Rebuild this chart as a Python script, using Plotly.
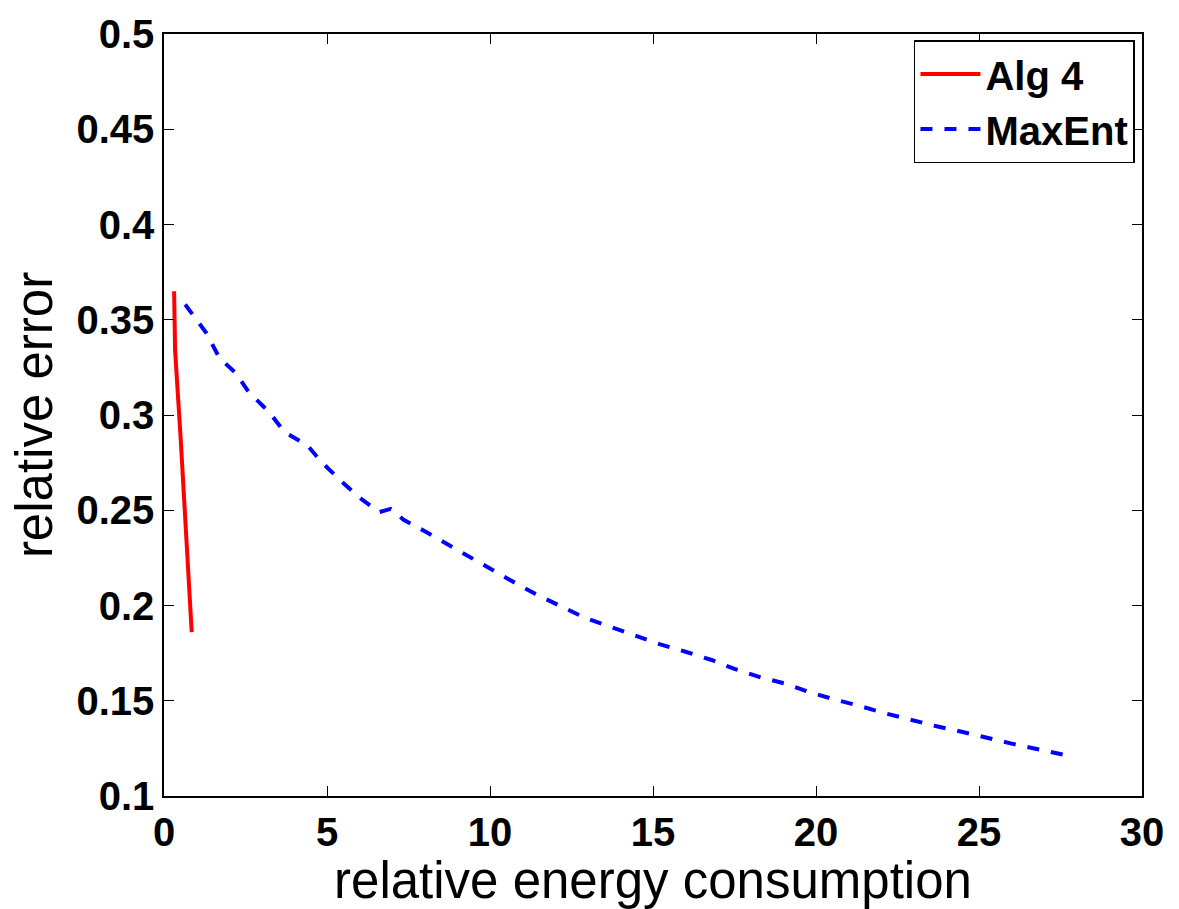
import plotly.graph_objects as go

alg4_x = [0.31, 0.34, 0.51, 0.67, 0.85]
alg4_y = [0.365, 0.334, 0.288, 0.236, 0.186]

maxent_x = [0.65, 1.3, 1.7, 2.2, 2.6, 3.2, 3.7, 4.4, 4.85, 5.45, 6.05, 6.6, 6.95, 7.35,
            8.0, 8.7, 9.4, 10.0, 10.6, 11.4, 12.2, 12.9, 13.7, 14.4, 15.2, 16.0, 16.8,
            17.5, 18.3, 19.1, 19.8, 20.6, 21.3, 22.1, 22.9, 23.7, 24.5, 25.2, 26.0,
            26.85, 27.8]
maxent_y = [0.358, 0.343, 0.330, 0.322, 0.312, 0.302, 0.291, 0.284, 0.275, 0.265, 0.256,
            0.249, 0.2507, 0.245, 0.239, 0.232, 0.2255, 0.219, 0.2135, 0.206, 0.1992,
            0.1936, 0.1888, 0.1844, 0.1797, 0.1757, 0.1714, 0.1667, 0.1623, 0.1588,
            0.1545, 0.1505, 0.1475, 0.1435, 0.140, 0.1366, 0.1336, 0.1306, 0.1275,
            0.1244, 0.1209]

x_ticks = [0, 5, 10, 15, 20, 25, 30]
y_ticks = [0.1, 0.15, 0.2, 0.25, 0.3, 0.35, 0.4, 0.45, 0.5]
y_ticklabels = ["0.1", "0.15", "0.2", "0.25", "0.3", "0.35", "0.4", "0.45", "0.5"]

fig = go.Figure()
fig.add_trace(go.Scatter(x=alg4_x, y=alg4_y, mode="lines", name="Alg 4",
                         line=dict(color="#ff0000", width=4)))
fig.add_trace(go.Scatter(x=maxent_x, y=maxent_y, mode="lines", name="MaxEnt",
                         line=dict(color="#0000ff", width=4, dash="dash")))

tickfont = dict(family="Arial, Liberation Sans, sans-serif", size=40, color="black", weight="bold")
titlefont = dict(family="Arial, Liberation Sans, sans-serif", size=51, color="black")

fig.update_layout(
    width=1179, height=909,
    margin=dict(l=164, r=37, t=30, b=113),
    paper_bgcolor="white", plot_bgcolor="white",
    showlegend=True,
    legend=dict(x=0.9928, y=0.992, xanchor="right", yanchor="top",
                bordercolor="black", borderwidth=1.5, bgcolor="white",
                font=dict(family="Arial, Liberation Sans, sans-serif", size=40, color="black", weight="bold"),
                tracegroupgap=0, itemwidth=60),
    xaxis=dict(range=[0, 30], tickvals=x_ticks, ticktext=[str(v) for v in x_ticks],
               showgrid=False, zeroline=False, showline=True, linecolor="black", linewidth=1.5,
               mirror="ticks", ticks="inside", ticklen=10, tickcolor="black", tickwidth=1,
               tickfont=tickfont, ticklabelstandoff=0,
               title=dict(text="relative energy consumption", font=titlefont, standoff=4)),
    yaxis=dict(range=[0.1, 0.5], tickvals=y_ticks, ticktext=y_ticklabels,
               showgrid=False, zeroline=False, showline=True, linecolor="black", linewidth=1.5,
               mirror="ticks", ticks="inside", ticklen=10, tickcolor="black", tickwidth=1,
               tickfont=tickfont, ticklabelstandoff=0,
               title=dict(text="relative error", font=titlefont, standoff=8)),
)

fig.write_html("out.html")
